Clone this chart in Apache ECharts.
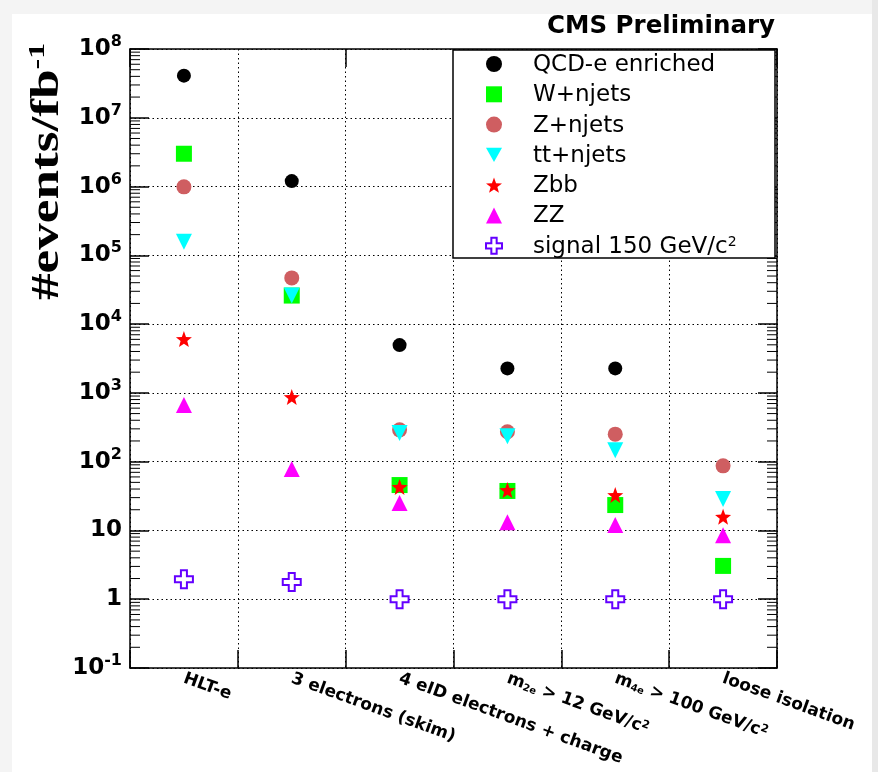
<!DOCTYPE html>
<html>
<head>
<meta charset="utf-8">
<script src="https://cdn.jsdelivr.net/npm/echarts@6/dist/echarts.min.js"></script>
<style>html,body{margin:0;padding:0;background:#fff}#c{width:878px;height:772px}</style>
</head>
<body>
<div id="c"></div>
<script>
// ---- data ----
var categories = ['HLT-e', '3 electrons (skim)', '4 eID electrons + charge',
  'm{sub|2e} > 12 GeV/c{sup|2}', 'm{sub|4e} > 100 GeV/c{sup|2}', 'loose isolation'];
var seriesNames = ['QCD-e enriched', 'W+njets', 'Z+njets', 'tt+njets', 'Zbb', 'ZZ', 'signal 150 GeV/c2'];
var legendLabels = ['QCD-e enriched', 'W+njets', 'Z+njets', 'tt+njets', 'Zbb', 'ZZ', 'signal 150 GeV/c{sup|2}'];
var qcd    = [4.1e7, 1.2e6, 4.95e3, 2.27e3, 2.27e3, null];
var wjets  = [3.0e6, 2.6e4, 45.7, 37.5, 23.4, 3.05];
var zjets  = [9.9e5, 4.7e4, 290, 272, 251, 87];
var ttjets = [1.58e5, 2.6e4, 262, 235, 146, 28.6];
var zbb    = [6.05e3, 870, 42.8, 38.6, 32.7, 15.8];
var zz     = [664, 78, 25, 13.2, 12, 8.5];
var signal = [1.95, 1.78, 1.0, 1.0, 1.0, 1.0];
// y tick labels by exponent (-1 .. 8)
var yTickLabels = ['{b|10}{s|-1}', '{b|1}', '{b|10}', '{b|10}{s|2}', '{b|10}{s|3}', '{b|10}{s|4}',
  '{b|10}{s|5}', '{b|10}{s|6}', '{b|10}{s|7}', '{b|10}{s|8}'];
var yMin = 0.1, yMax = 1e8;

// minor log ticks (2..9 x 10^k)
var minorTicks = [];
for (var e = -1; e < 8; e++) { for (var k = 2; k <= 9; k++) { minorTicks.push([0, k * Math.pow(10, e)]); } }

function starPath() {
  var pts = [];
  for (var i = 0; i < 10; i++) {
    var r = (i % 2 === 0) ? 1 : 0.42;
    var a = -Math.PI / 2 + i * Math.PI / 5;
    pts.push((r * Math.cos(a)).toFixed(3) + ',' + (r * Math.sin(a)).toFixed(3));
  }
  return 'path://M' + pts.join(' L') + ' Z';
}
var SANS = 'DejaVu Sans';
var colors = ['#000000', '#00ff00', '#cf5e61', '#00ffff', '#ff0000', '#ff00ff', '#6400ff'];
var symbols = ['circle', 'rect', 'circle', 'path://M0,0 L2,0 L1,1.8 Z', starPath(), 'triangle',
  'path://M1,0 H2 V1 H3 V2 H2 V3 H1 V2 H0 V1 H1 Z'];
var sizes = [14, 16, 15, 16, 16, 16, 18];
var dataSets = [qcd, wjets, zjets, ttjets, zbb, zz, signal];

var series = dataSets.map(function (d, i) {
  var isSig = i === 6;
  return {
    name: seriesNames[i], type: 'scatter', symbol: symbols[i], symbolSize: sizes[i],
    data: d, z: 2,
    itemStyle: isSig ? { color: '#ffffff', borderColor: colors[i], borderWidth: 2, opacity: 1 }
                     : { color: colors[i], opacity: 1 },
    emphasis: { disabled: true }
  };
});
series.push({
  type: 'custom', silent: true, clip: false, data: minorTicks,
  encode: { x: 0, y: 1 },
  renderItem: function (params, api) {
    var y = api.coord([0, api.value(1)])[1];
    var cs = params.coordSys;
    var len = 10;
    return { type: 'group', children: [
      { type: 'line', shape: { x1: cs.x, y1: y, x2: cs.x + len, y2: y }, style: { stroke: '#000', lineWidth: 1 } },
      { type: 'line', shape: { x1: cs.x + cs.width - len, y1: y, x2: cs.x + cs.width, y2: y }, style: { stroke: '#000', lineWidth: 1 } }
    ] };
  }
});

var frameLine = { show: true, lineStyle: { color: '#000', width: 1.5 } };
var dotted = { show: true, lineStyle: { color: '#000', width: 1, type: [1.5, 3] } };
var yRich = {
  b: { fontFamily: SANS, fontWeight: 'bold', fontSize: 23, color: '#000', lineHeight: 30 },
  s: { fontFamily: SANS, fontWeight: 'bold', fontSize: 16, color: '#000', verticalAlign: 'top', lineHeight: 16 }
};

var option = {
  backgroundColor: '#ffffff',
  animation: false,
  title: { text: 'CMS Preliminary', right: 103, top: 14, padding: 0,
    textStyle: { fontFamily: SANS, fontWeight: 'bold', fontSize: 24.5, color: '#000' } },
  grid: { left: 130, right: 101, top: 49, bottom: 104, containLabel: false },
  legend: {
    data: seriesNames, orient: 'vertical', left: 485, top: 52, padding: 0, z: 5,
    itemWidth: 16, itemHeight: 16, itemGap: 5.8,
    formatter: function (n) { return legendLabels[seriesNames.indexOf(n)]; },
    textStyle: { fontFamily: SANS, fontSize: 23, color: '#000', lineHeight: 22, padding: [2, 0, 0, 26],
      rich: { sup: { fontFamily: SANS, fontSize: 14, color: '#000', verticalAlign: 'top', lineHeight: 14 } } },
    selectedMode: false
  },
  xAxis: [{
    type: 'category', data: categories, boundaryGap: true, position: 'bottom',
    axisLine: frameLine,
    axisTick: { show: true, inside: true, length: 18, lineStyle: { color: '#000', width: 1.5 } },
    splitLine: dotted,
    axisLabel: { interval: 0, rotate: -20, margin: 10, fontFamily: SANS, fontWeight: 'bold', fontSize: 17, color: '#000',
      rich: {
        sub: { fontFamily: SANS, fontWeight: 'bold', fontSize: 10, color: '#000', verticalAlign: 'bottom', lineHeight: 10 },
        sup: { fontFamily: SANS, fontWeight: 'bold', fontSize: 11, color: '#000', verticalAlign: 'top', lineHeight: 11 }
      } }
  }, {
    type: 'category', data: categories, boundaryGap: true, position: 'top',
    axisLine: frameLine,
    axisTick: { show: true, inside: true, length: 18, lineStyle: { color: '#000', width: 1.5 } },
    axisLabel: { show: false }, splitLine: { show: false }
  }],
  yAxis: [{
    type: 'log', logBase: 10, min: yMin, max: yMax, interval: 1, position: 'left',
    axisLine: frameLine,
    axisTick: { show: true, inside: true, length: 19, lineStyle: { color: '#000', width: 1.5 } },
    splitLine: dotted,
    axisLabel: { margin: 8, formatter: function (v) { return yTickLabels[Math.round(Math.log10(v)) + 1]; }, rich: yRich }
  }, {
    type: 'log', logBase: 10, min: yMin, max: yMax, interval: 1, position: 'right',
    axisLine: frameLine,
    axisTick: { show: true, inside: true, length: 19, lineStyle: { color: '#000', width: 1.5 } },
    axisLabel: { show: false }, splitLine: { show: false }
  }],
  graphic: [
    { type: 'rect', z: -100, shape: { x: 0, y: 0, width: 12, height: 772 }, style: { fill: '#f4f4f4' }, silent: true },
    { type: 'rect', z: -100, shape: { x: 0, y: 0, width: 878, height: 14 }, style: { fill: '#f4f4f4' }, silent: true },
    { type: 'rect', z: -100, shape: { x: 872, y: 0, width: 6, height: 772 }, style: { fill: '#e8e8e8' }, silent: true },
    { type: 'rect', z: 3, shape: { x: 453, y: 50, width: 322, height: 208 },
      style: { fill: '#fff', stroke: '#000', lineWidth: 1.5 }, silent: true },
    { type: 'text', z: 10, x: 48, y: 300, rotation: Math.PI / 2, scaleX: 1.33, silent: true,
      style: { text: '{a|#events/fb}{b|-1}', textAlign: 'left', textVerticalAlign: 'middle',
        rich: {
          a: { fontFamily: 'Liberation Serif', fontWeight: 'bold', fontSize: 40, fill: '#000', lineHeight: 44 },
          b: { fontFamily: 'Liberation Serif', fontWeight: 'bold', fontSize: 24, fill: '#000', verticalAlign: 'top', lineHeight: 24 }
        } } }
  ],
  series: series
};
var chart = echarts.init(document.getElementById('c'), null, { renderer: 'canvas' });
chart.setOption(option);
</script>
</body>
</html>
